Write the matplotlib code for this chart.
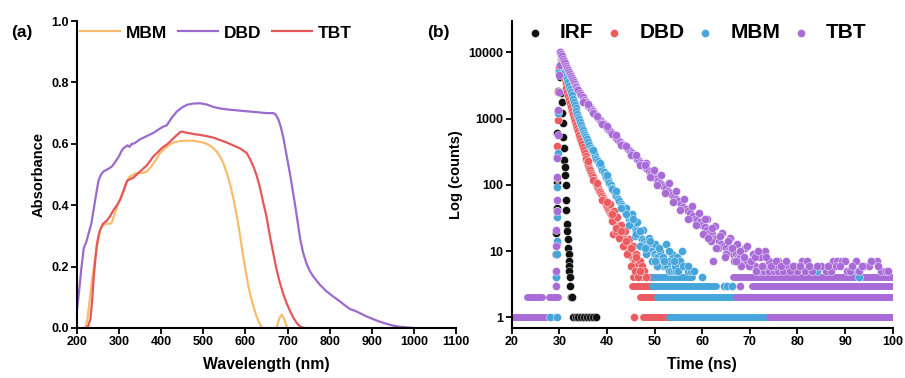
import matplotlib
matplotlib.use("Agg")
import matplotlib.pyplot as plt

plt.rcParams["font.family"] = ["Liberation Sans", "DejaVu Sans"]
plt.rcParams["font.weight"] = "bold"

# ---------------- (a) absorbance ----------------
mbm_wl = [220, 225, 230, 236, 242, 248, 255, 262, 271, 279, 283, 289, 295, 303, 311, 317, 323, 334, 342,
          350, 358, 366, 374, 382, 390, 397, 405, 413, 421, 429, 441, 453, 465, 476, 488, 500, 512, 524,
          532, 540, 548, 556, 564, 572, 578, 584, 590, 596, 602, 607, 613, 619, 625, 631, 636, 640, 650,
          665, 674, 680, 686, 692, 696, 700, 710]
mbm_abs = [0.0, 0.03, 0.09, 0.16, 0.22, 0.27, 0.32, 0.335, 0.34, 0.34, 0.345, 0.37, 0.395, 0.42, 0.445,
           0.47, 0.49, 0.50, 0.505, 0.505, 0.505, 0.51, 0.522, 0.537, 0.553, 0.57, 0.58, 0.59, 0.598,
           0.604, 0.608, 0.61, 0.61, 0.61, 0.607, 0.604, 0.597, 0.586, 0.574, 0.558, 0.535, 0.504, 0.465,
           0.418, 0.375, 0.33, 0.275, 0.222, 0.175, 0.136, 0.10, 0.07, 0.043, 0.022, 0.008, 0.0, -0.02,
           -0.01, 0.0, 0.03, 0.043, 0.03, 0.012, 0.0, -0.02]

dbd_wl = [200, 205, 210, 216, 222, 228, 234, 240, 246, 251, 257, 263, 270, 276, 282, 288, 295, 300, 305,
          310, 315, 320, 325, 330, 334, 340, 350, 358, 370, 382, 395, 405, 413, 425, 437, 449, 461, 476,
          492, 508, 524, 540, 556, 572, 587, 603, 619, 635, 650, 666, 672, 678, 684, 690, 698, 706, 712,
          718, 724, 730, 737, 745, 753, 761, 776, 792, 808, 824, 836, 848, 860, 871, 887, 903, 918, 934,
          950, 966, 982, 998]
dbd_abs = [0.06, 0.12, 0.19, 0.26, 0.28, 0.31, 0.34, 0.39, 0.44, 0.48, 0.50, 0.51, 0.515, 0.52, 0.525,
           0.535, 0.55, 0.56, 0.575, 0.585, 0.59, 0.595, 0.59, 0.60, 0.60, 0.605, 0.615, 0.62, 0.628,
           0.636, 0.648, 0.656, 0.66, 0.685, 0.705, 0.718, 0.727, 0.731, 0.732, 0.728, 0.72, 0.715,
           0.712, 0.71, 0.708, 0.706, 0.704, 0.702, 0.70, 0.70, 0.695, 0.68, 0.655, 0.62, 0.56, 0.50,
           0.45, 0.40, 0.345, 0.29, 0.245, 0.21, 0.185, 0.168, 0.142, 0.12, 0.103, 0.087, 0.074, 0.062,
           0.056, 0.049, 0.038, 0.029, 0.021, 0.014, 0.008, 0.004, 0.002, 0.0]

tbt_wl = [225, 232, 236, 240, 244, 247, 251, 255, 262, 271, 279, 287, 295, 303, 311, 319, 327, 334, 342,
          350, 358, 366, 374, 382, 390, 397, 405, 413, 421, 429, 437, 445, 449, 457, 469, 480, 492, 508,
          524, 540, 556, 572, 587, 603, 611, 619, 627, 634, 642, 650, 658, 666, 674, 682, 690, 698, 706,
          714, 722, 730, 738, 745]
tbt_abs = [0.0, 0.03, 0.09, 0.17, 0.23, 0.27, 0.30, 0.32, 0.34, 0.35, 0.365, 0.385, 0.40, 0.42, 0.45,
           0.48, 0.485, 0.49, 0.50, 0.51, 0.52, 0.53, 0.545, 0.56, 0.57, 0.58, 0.59, 0.597, 0.607, 0.618,
           0.628, 0.638, 0.64, 0.637, 0.634, 0.631, 0.629, 0.625, 0.62, 0.612, 0.604, 0.594, 0.585, 0.57,
           0.55, 0.526, 0.495, 0.46, 0.41, 0.363, 0.30, 0.244, 0.19, 0.146, 0.11, 0.08, 0.055, 0.033,
           0.016, 0.005, 0.0, 0.0]

# ---------------- (b) decay, channel points (time ns, counts) ----------------
irf_t = [29.4, 29.4, 29.5, 29.5, 29.6, 29.6, 29.7, 29.8, 29.9,
         30.2, 30.4, 30.5, 30.6, 30.7, 30.8, 30.9, 31.0, 31.1, 31.2, 31.3, 31.4, 31.5, 31.6, 31.7,
         31.8, 31.9, 32.0, 32.0, 32.1, 32.1, 32.2, 32.3, 32.4, 32.6,
         32.8, 33.4, 34.0, 34.6, 35.2, 35.8, 36.5, 37.0, 37.6]
irf_c = [9, 19, 45, 110, 260, 600, 1300, 2600, 5400,
         4300, 2400, 1800, 1200, 850, 530, 360, 235, 188, 140, 100, 59, 42, 26, 20,
         15, 11, 9, 7, 6, 5, 4, 3, 2, 2,
         1, 1, 1, 1, 1, 1, 1, 1, 1]

dbd_t = [29.4, 29.5, 29.5, 29.6, 29.6, 29.7, 29.8, 29.9,
         30.1, 30.3, 30.5, 30.7, 30.9, 31.1, 31.3, 31.5, 31.7, 31.9, 32.1, 32.3, 32.5, 32.7, 32.9,
         33.1, 33.3, 33.5, 33.7, 33.9, 34.1, 34.3, 34.5, 34.7, 34.9, 35.1, 35.3, 35.5, 35.7, 35.9,
         36.1, 36.3, 36.5, 36.7, 36.9, 37.1, 37.3, 37.5, 37.7, 37.9, 38.1, 38.3, 38.5, 38.7, 38.9,
         39.1, 39.3, 39.5, 39.7, 39.9, 40.1, 40.3, 40.5, 40.7, 40.9, 41.1, 41.3, 41.5, 41.7, 41.9,
         42.1, 42.3, 42.5, 42.7, 42.9, 43.1, 43.3, 43.5, 43.7, 43.9, 44.1, 44.3, 44.5, 44.7, 44.9,
         45.1, 45.3, 45.5, 45.7, 45.9, 46.1, 46.3, 46.5, 46.7, 47.0,
         40.6, 41.0, 41.3, 41.4, 41.8, 42.2, 42.6, 43.0, 43.4, 43.8, 44.2, 44.6, 45.0, 45.4, 45.8,
         46.2, 46.6, 47.0, 47.4, 47.8, 48.2, 45.7,
         36.0, 37.0, 38.0, 39.0, 40.0, 41.0, 42.0, 43.0, 44.0, 45.0, 46.0, 47.0]
dbd_c = [4, 13, 40, 126, 380, 950, 2500, 6000,
         10000, 8000, 6500, 5400, 4600, 3900, 3400, 2900, 2500, 2200, 1900, 1700, 1500, 1320, 1170,
         1030, 910, 810, 720, 640, 570, 510, 460, 410, 370, 330, 300, 270, 245, 222,
         200, 182, 166, 152, 140, 129, 119, 110, 102, 95, 88, 82, 77, 72, 67,
         63, 59, 55, 52, 49, 46, 43, 40, 38, 36, 33, 31, 29, 27, 26,
         24, 23, 21, 20, 18, 17, 16, 15, 14, 13, 12, 11, 11, 10, 9,
         9, 8, 8, 7, 7, 6, 6, 5, 5, 5,
         52, 28, 18, 40, 20, 33, 16, 25, 12, 20, 9, 15, 6, 12, 5,
         9, 4, 7, 6, 5, 4, 1,
         230, 120, 105, 58, 55, 36, 22, 20, 14, 11, 8, 5]

mbm_t = [29.4, 29.5, 29.5, 29.6, 29.6, 29.7, 29.8, 29.9,
         30.2, 30.4, 30.6, 30.8, 31.0, 31.2, 31.4, 31.6, 31.8, 32.0, 32.2, 32.4, 32.6, 32.8, 33.0,
         33.2, 33.4, 33.6, 33.8, 34.0, 34.2, 34.4, 34.6, 34.8, 35.0, 35.2, 35.4, 35.6, 35.8, 36.0,
         36.3, 36.6, 36.9, 37.2, 37.5, 37.8, 38.1, 38.4, 38.7, 39.0, 39.3, 39.6, 39.9, 40.2, 40.5,
         40.8, 41.1, 41.4, 41.7, 42.0, 42.3, 42.6, 42.9, 43.2, 43.5, 43.8, 44.1, 44.4, 44.7, 45.0,
         45.3, 45.6, 45.9, 46.2, 46.5, 46.8, 47.1, 47.4, 47.7, 48.0, 48.3, 48.6, 48.9, 49.2, 49.5,
         49.8, 50.1, 50.4, 50.7, 51.0, 51.4, 51.8, 52.2, 52.6, 53.0, 53.5, 54.0, 54.5,
         44.0, 44.6, 45.2, 45.8, 46.4, 47.0, 47.6, 48.2, 48.8, 49.4, 50.0, 50.6, 51.2, 51.8, 52.4,
         53.0, 53.6, 54.2, 54.8, 55.4, 55.8, 56.4, 57.0, 57.6, 58.2, 59.9, 64.5, 65.3, 66.2,
         84.0, 92.4, 93.0, 28.0, 29.5,
         37.0, 38.5, 40.0, 41.0, 42.0, 43.0, 44.0, 45.5, 46.0, 47.0, 48.0, 49.0, 50.0, 51.0, 52.0,
         53.0, 54.0, 55.0, 56.0, 57.0]
mbm_c = [4, 9, 14, 33, 94, 300, 1200, 5000,
         10000, 8800, 7700, 6700, 5800, 5000, 4400, 3900, 3500, 3150, 2800, 2500, 2250, 2000, 1800,
         1620, 1460, 1320, 1190, 1070, 970, 880, 800, 730, 670, 615, 565, 520, 485, 450,
         405, 365, 330, 300, 272, 248, 225, 205, 187, 170, 155, 141, 129, 118, 108,
         99, 90, 82, 75, 68, 62, 57, 52, 48, 44, 40, 37, 34, 31, 28,
         26, 24, 22, 20, 19, 17, 16, 15, 14, 13, 12, 12, 11, 10, 10,
         9, 9, 8, 8, 7, 7, 6, 6, 6, 5, 5, 5, 5,
         45, 25, 36, 17, 27, 12, 21, 9, 16, 7, 13, 6, 10, 8, 13,
         7, 9, 6, 8, 7, 10, 6, 5, 5, 5, 4, 3, 3, 3,
         5, 5, 4, 1, 1,
         330, 215, 140, 85, 80, 45, 36, 30, 18, 20, 11, 14, 7, 11, 7,
         10, 7, 5, 6, 6]

tbt_t = [29.2, 29.3, 29.4, 29.4, 29.5, 29.5, 29.6, 29.6, 29.7, 29.8, 29.9, 30.0, 30.1,
         30.2, 30.4, 30.6, 30.8, 31.0, 31.2, 31.4, 31.6, 31.8, 32.0, 32.2, 32.4, 32.6, 32.8, 33.0,
         33.2, 33.4, 33.6, 33.8, 34.0, 34.3, 34.6, 34.9, 35.2, 35.5, 35.8, 36.1, 36.4, 36.7, 37.0,
         37.3, 37.6, 37.9, 38.2, 38.5, 38.8, 39.1, 39.4, 39.7, 40.0, 40.4, 40.8, 41.2, 41.6, 42.0,
         42.4, 42.8, 43.2, 43.6, 44.0, 44.4, 44.8, 45.2, 45.6, 46.0, 46.4, 46.8, 47.2, 47.6, 48.0,
         48.4, 48.8, 49.2, 49.6, 50.0, 50.4, 50.8, 51.2, 51.6, 52.0, 52.4, 52.8, 53.2, 53.6, 54.0,
         54.5, 55.0, 55.5, 56.0, 56.5, 57.0, 57.5, 58.0, 58.5, 59.0, 59.5, 60.0, 60.5, 61.0, 61.5,
         62.0, 62.5, 63.0, 63.5, 64.0, 64.5, 65.0, 65.5, 66.0, 66.5, 67.0, 67.5, 68.0, 68.5, 69.0,
         69.5, 70.0, 70.5, 71.0, 72.0, 73.0, 74.0, 75.0, 76.0,
         48.2, 49.0, 49.8, 50.6, 51.4, 52.2, 53.0, 53.8, 54.6, 55.4, 56.2, 57.0, 57.8, 58.6, 59.4,
         60.2, 61.0, 61.8, 62.6, 63.4, 64.2, 65.0, 65.8, 66.6, 67.4, 68.2, 69.0, 69.8, 70.6, 71.4,
         72.2, 73.0, 73.2, 74.0, 75.0, 76.0, 77.0, 78.0, 62.3, 67.9, 79.5, 81.0, 82.0, 80.0, 81.5,
         83.0, 86.0, 87.0, 87.5, 88.3, 88.0, 89.3, 90.0, 90.5, 91.0, 92.2, 93.0, 94.0, 95.0, 96.6,
         97.5, 98.5, 85.0,
         35.0, 36.0, 37.0, 38.0, 39.0, 40.0, 41.0, 42.0, 43.0, 44.0, 45.0, 46.0, 47.0, 48.0,
         60.5, 61.2, 62.0, 63.0, 63.8, 64.8, 65.5, 66.3, 67.2, 68.0, 68.8, 69.5, 70.2, 71.0, 71.8,
         72.6, 73.5, 74.5, 75.5, 76.5, 77.5, 78.5, 79.0, 80.5, 82.5, 84.0, 86.5, 89.0, 91.5, 93.5,
         95.5, 97.0, 99.0]
tbt_c = [3, 5, 12, 21, 40, 59, 130, 250, 565, 1350, 2500, 4500, 6400,
         10000, 9400, 8700, 8000, 7400, 6800, 6300, 5800, 5400, 5000, 4650, 4350, 4050, 3800, 3550,
         3350, 3150, 2950, 2800, 2650, 2450, 2250, 2080, 1930, 1800, 1680, 1570, 1470, 1380, 1300,
         1220, 1150, 1080, 1020, 960, 910, 860, 815, 770, 730, 680, 630, 590, 550, 515,
         480, 450, 420, 392, 366, 342, 320, 300, 280, 262, 245, 229, 214, 200, 187,
         175, 163, 152, 142, 133, 124, 116, 108, 101, 94, 88, 82, 76, 71, 66,
         61, 56, 51, 47, 43, 40, 37, 34, 31, 29, 27, 25, 23, 21, 19,
         18, 16, 15, 14, 13, 12, 11, 10, 10, 9, 9, 8, 8, 7, 7,
         7, 6, 6, 6, 5, 5, 5, 5, 5,
         215, 130, 170, 100, 140, 75, 105, 55, 80, 42, 62, 30, 48, 25, 38,
         18, 30, 14, 24, 11, 19, 9, 16, 7, 13, 6, 11, 6, 9, 5,
         8, 6, 10, 7, 6, 7, 5, 6, 7, 3, 6, 7, 7, 5, 5,
         5, 5, 5, 7, 7, 6, 7, 7, 5, 5, 7, 5, 6, 6, 7,
         5, 5, 6,
         1750, 1650, 1200, 1080, 820, 780, 580, 560, 400, 390, 280, 280, 200, 200,
         30, 16, 22, 11, 17, 8, 14, 11, 7, 10, 8, 12, 7, 8, 10,
         6, 8, 6, 7, 6, 7, 5, 6, 6, 6, 6, 6, 6, 6, 6,
         7, 6, 5]

# background rows of equal counts: (start ns, end ns, counts)
dbd_rows = [(47.6, 53.3, 1), (47.0, 50.5, 2), (45.3, 49.4, 3), (45.5, 49.7, 4)]
mbm_rows = [(53.0, 100.0, 1), (50.5, 100.0, 2), (49.4, 63.0, 3), (49.7, 57.9, 4)]
tbt_rows = [(20.0, 29.6, 1), (74.0, 100.0, 1), (23.2, 26.3, 2), (27.8, 29.8, 2), (67.0, 100.0, 2),
            (70.5, 100.0, 3), (66.5, 100.0, 4)]

c_mbm_line = "#F8BC6C"
c_dbd_line = "#9B6BCB"
c_tbt_line = "#E5575B"
c_irf = "#111111"
c_dbd = "#EC5B5F"
c_mbm = "#46A6DC"
c_tbt = "#A96BD8"

fig = plt.figure(figsize=(9.05, 3.78), dpi=100)
ax1 = fig.add_axes([77 / 905, 50 / 378, 379 / 905, 307 / 378])
ax2 = fig.add_axes([511.7 / 905, 50 / 378, 381 / 905, 307 / 378])

ax1.plot(mbm_wl, mbm_abs, color=c_mbm_line, lw=1.6, label="MBM")
ax1.plot(dbd_wl, dbd_abs, color=c_dbd_line, lw=1.6, label="DBD")
ax1.plot(tbt_wl, tbt_abs, color=c_tbt_line, lw=1.6, label="TBT")
ax1.set_xlim(200, 1100)
ax1.set_ylim(0, 1.0)
ax1.set_xticks(range(200, 1101, 100))
ax1.set_yticks([0.0, 0.2, 0.4, 0.6, 0.8, 1.0])
ax1.set_yticklabels(["0.0", "0.2", "0.4", "0.6", "0.8", "1.0"])
ax1.set_xlabel("Wavelength (nm)", fontsize=11.3, fontweight="bold", labelpad=6)
ax1.set_ylabel("Absorbance", fontsize=10.5, fontweight="bold", labelpad=4)
ax1.legend(loc="center left", bbox_to_anchor=(0.008, 0.961), ncol=3, frameon=False,
           prop={"size": 12.5, "weight": "bold"}, handlelength=2.3, handletextpad=0.35,
           columnspacing=0.6, borderpad=0, borderaxespad=0)

for t_list, c_list, rows, col, lab in [
    (irf_t, irf_c, [], c_irf, "IRF"),
    (dbd_t, dbd_c, dbd_rows, c_dbd, "DBD"),
    (mbm_t, mbm_c, mbm_rows, c_mbm, "MBM"),
    (tbt_t, tbt_c, tbt_rows, c_tbt, "TBT"),
]:
    for t0, t1, lev in rows:
        ax2.plot([t0, t1], [lev, lev], color=col, lw=5.0, solid_capstyle="round", zorder=2)
    ax2.scatter(t_list, c_list, s=34, color=col, edgecolors="white", linewidths=0.3,
                label=lab, zorder=3)

ax2.set_yscale("log")
ax2.set_xlim(20, 100)
ax2.set_ylim(0.69, 29650)
ax2.set_xticks(range(20, 101, 10))
ax2.set_yticks([1, 10, 100, 1000, 10000])
ax2.set_yticklabels(["1", "10", "100", "1000", "10000"])
ax2.minorticks_off()
ax2.set_xlabel("Time (ns)", fontsize=11.3, fontweight="bold", labelpad=6)
ax2.set_ylabel("Log (counts)", fontsize=10.5, fontweight="bold", labelpad=4)
ax2.legend(loc="center left", bbox_to_anchor=(0.045, 0.961), ncol=4, frameon=False,
           prop={"size": 15, "weight": "bold"}, handlelength=0.6, handletextpad=0.9,
           columnspacing=0.7, borderpad=0, borderaxespad=0, scatterpoints=1, markerscale=1.0)

for ax in (ax1, ax2):
    for side in ("top", "right"):
        ax.spines[side].set_visible(False)
    for side in ("left", "bottom"):
        ax.spines[side].set_linewidth(1.5)
    ax.tick_params(direction="out", length=4, width=1.3, labelsize=9, pad=2)
    for lbl in ax.get_xticklabels() + ax.get_yticklabels():
        lbl.set_fontweight("bold")

fig.text(22 / 905, 1 - 33 / 378, "(a)", fontsize=12.5, fontweight="bold", ha="center", va="center")
fig.text(438 / 905, 1 - 33 / 378, "(b)", fontsize=12.5, fontweight="bold", ha="center", va="center")

fig.savefig("out.png", dpi=100)
